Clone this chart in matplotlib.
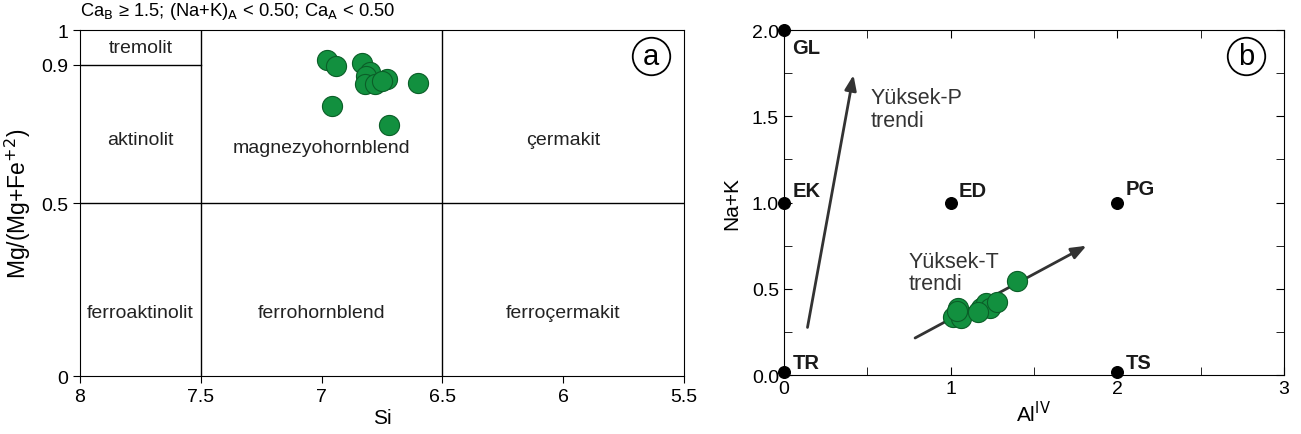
import matplotlib.pyplot as plt

plt.rcParams['font.family'] = ['Liberation Sans', 'DejaVu Sans']

# panel a: Si vs Mg/(Mg+Fe2+)
si = [6.979, 6.942, 6.834, 6.800, 6.816, 6.820, 6.779, 6.731, 6.751, 6.602, 6.956, 6.721]
mg_no = [0.914, 0.895, 0.905, 0.878, 0.868, 0.844, 0.844, 0.857, 0.854, 0.847, 0.781, 0.726]

# panel b: AlIV vs Na+K
al_iv = [1.012, 1.063, 1.047, 1.040, 1.185, 1.212, 1.235, 1.166, 1.277, 1.396]
na_k = [0.338, 0.328, 0.386, 0.373, 0.390, 0.415, 0.386, 0.367, 0.425, 0.545]

# end members
em_names = ["GL", "EK", "TR", "ED", "PG", "TS"]
em_x = [0, 0, 0, 1, 2, 2]
em_y = [2.0, 1.0, 0.02, 1.0, 1.0, 0.02]

# field names for panel a (label, x, y)
fields = [("tremolit", 7.75, 0.95), ("aktinolit", 7.75, 0.685),
          ("magnezyohornblend", 7.0, 0.66), ("çermakit", 6.0, 0.685),
          ("ferroaktinolit", 7.75, 0.185), ("ferrohornblend", 7.0, 0.185),
          ("ferroçermakit", 6.0, 0.185)]

green = "#12903f"
edge = "#0b5e28"

fig = plt.figure(figsize=(13.01, 4.35), dpi=100)
ax1 = fig.add_axes([0.0615, 0.1333, 0.4643, 0.7954])
ax2 = fig.add_axes([0.6026, 0.1356, 0.3843, 0.7931])


def circled(ax, x, y, letter):
    ax.plot([x], [y], marker="o", markersize=27, mfc="none", mec="black", mew=1.3,
            transform=ax.transAxes, clip_on=False)
    ax.text(x, y, letter, transform=ax.transAxes, ha="center", va="center", fontsize=21)


# ---- panel a ----
ax1.set_xlim(8, 5.5)
ax1.set_ylim(0, 1)
ax1.plot([7.5, 7.5], [0, 1], color="black", lw=1)
ax1.plot([6.5, 6.5], [0, 1], color="black", lw=1)
ax1.plot([8, 5.5], [0.5, 0.5], color="black", lw=1)
ax1.plot([8, 7.5], [0.9, 0.9], color="black", lw=1)
for name, x, y in fields:
    ax1.text(x, y, name, ha="center", va="center", fontsize=14, color="#222222")
ax1.scatter(si, mg_no, s=210, c=green, edgecolors=edge, linewidths=0.8, zorder=3)
ax1.set_xticks([8, 7.5, 7, 6.5, 6, 5.5])
ax1.set_xticklabels(["8", "7.5", "7", "6.5", "6", "5.5"])
ax1.set_yticks([0, 0.5, 0.9, 1])
ax1.set_yticklabels(["0", "0.5", "0.9", "1"])
ax1.tick_params(direction="out", length=5, labelsize=14)
ax1.set_xlabel("Si", fontsize=15, labelpad=2)
ax1.set_ylabel("Mg/(Mg+Fe$^{+2}$)", fontsize=16.5, labelpad=6)
ax1.text(0.0, 1.025, "Ca$_\\mathrm{B}$ ≥ 1.5; (Na+K)$_\\mathrm{A}$ < 0.50; Ca$_\\mathrm{A}$ < 0.50",
         transform=ax1.transAxes, fontsize=13.2, ha="left", va="bottom")
circled(ax1, 0.945, 0.925, "a")

# ---- panel b ----
ax2.set_xlim(0, 3)
ax2.set_ylim(0, 2)
ax2.annotate("", xy=(0.42, 1.755), xytext=(0.138, 0.26),
             arrowprops=dict(arrowstyle="-|>,head_length=0.9,head_width=0.35",
                             color="#333333", lw=2))
ax2.annotate("", xy=(1.83, 0.757), xytext=(0.772, 0.207),
             arrowprops=dict(arrowstyle="-|>,head_length=0.9,head_width=0.35",
                             color="#333333", lw=2))
ax2.text(0.52, 1.67, "Yüksek-P\ntrendi", fontsize=15.5, va="top", color="#333333",
         linespacing=1.1)
ax2.text(0.75, 0.72, "Yüksek-T\ntrendi", fontsize=15.5, va="top", color="#333333",
         linespacing=1.1)
ax2.scatter(em_x, em_y, s=70, c="black", zorder=4, clip_on=False)
offsets = {"GL": (0.05, 1.9), "EK": (0.05, 1.07), "TR": (0.05, 0.07),
           "ED": (1.05, 1.07), "PG": (2.05, 1.08), "TS": (2.05, 0.07)}
for name in em_names:
    ox, oy = offsets[name]
    ax2.text(ox, oy, name, fontsize=14.5, fontweight="bold", va="center", ha="left",
             color="#1a1a1a")
ax2.scatter(al_iv, na_k, s=210, c=green, edgecolors=edge, linewidths=0.8, zorder=3)
ax2.set_xticks([0, 1, 2, 3])
ax2.set_xticks([0.5, 1.5, 2.5], minor=True)
ax2.set_yticks([0.0, 0.5, 1.0, 1.5, 2.0])
ax2.set_yticklabels(["0.0", "0.5", "1.0", "1.5", "2.0"])
ax2.set_yticks([0.25, 0.75, 1.25, 1.75], minor=True)
ax2.tick_params(which="both", direction="in", length=6, top=True, right=True,
                labelsize=14)
ax2.set_xlabel("Al$^{\\mathrm{IV}}$", fontsize=15, labelpad=2)
ax2.set_ylabel("Na+K", fontsize=15, labelpad=8)
circled(ax2, 0.925, 0.925, "b")

fig.savefig("out.png", dpi=100)
